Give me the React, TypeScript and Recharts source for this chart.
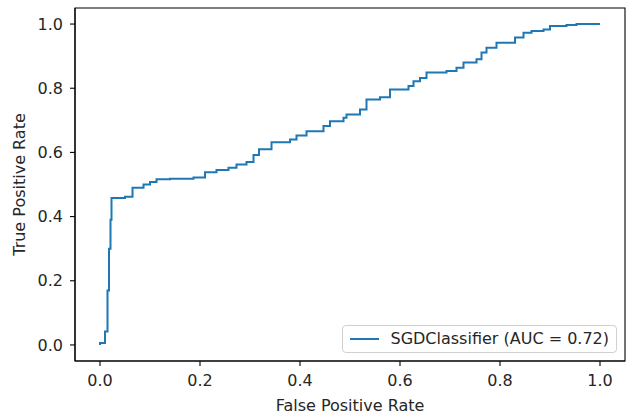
import React from 'react';
import { LineChart, Line, XAxis, YAxis, ReferenceArea, Legend } from 'recharts';

const fpr = [0, 0, 0.01, 0.015, 0.018, 0.021, 0.023, 0.05, 0.065, 0.087, 0.1, 0.113, 0.14, 0.187, 0.21, 0.233, 0.257, 0.273, 0.293, 0.307, 0.318, 0.343, 0.38, 0.393, 0.413, 0.447, 0.46, 0.487, 0.493, 0.52, 0.533, 0.56, 0.58, 0.617, 0.627, 0.64, 0.653, 0.693, 0.713, 0.727, 0.753, 0.763, 0.773, 0.793, 0.83, 0.847, 0.863, 0.887, 0.9, 0.933, 0.953, 1.0];
const tpr = [0, 0.006, 0.042, 0.17, 0.3, 0.39, 0.458, 0.462, 0.49, 0.5, 0.508, 0.516, 0.518, 0.522, 0.538, 0.545, 0.552, 0.562, 0.57, 0.592, 0.61, 0.632, 0.64, 0.653, 0.666, 0.682, 0.697, 0.708, 0.718, 0.734, 0.765, 0.772, 0.796, 0.807, 0.822, 0.832, 0.849, 0.854, 0.864, 0.88, 0.89, 0.911, 0.926, 0.942, 0.958, 0.973, 0.978, 0.983, 0.994, 0.997, 1.0, 1.0];
const ticks = [0, 0.2, 0.4, 0.6, 0.8, 1.0];
const seriesName = 'SGDClassifier (AUC = 0.72)';
const xLabel = 'False Positive Rate';
const yLabel = 'True Positive Rate';

const data = fpr.map((x, i) => ({ fpr: x, tpr: tpr[i] }));

const FONT = 'DejaVu Sans, sans-serif';
const FS = 16;
const TEXT = '#262626';
const BLUE = '#1f77b4';

const LegendBox = () => (
  <div
    style={{
      display: 'inline-flex',
      alignItems: 'center',
      background: 'rgba(255,255,255,0.8)',
      border: '1px solid #d0d0d0',
      borderRadius: 4,
      padding: '3px 7px 3px 7px',
      fontFamily: FONT,
      fontSize: FS,
      lineHeight: '20px',
      color: TEXT,
      whiteSpace: 'nowrap',
    }}
  >
    <svg width={29} height={4} style={{ marginRight: 11 }}>
      <line x1={0} y1={2} x2={29} y2={2} stroke={BLUE} strokeWidth={2} />
    </svg>
    <span>{seriesName}</span>
  </div>
);

export default function App() {
  return (
    <div style={{ position: 'absolute', left: 0, top: 0, width: 628, height: 417, background: '#fff' }}>
      <LineChart width={628} height={417} data={data} margin={{ top: 8, right: 3, bottom: 0, left: 0 }}>
        <XAxis
          dataKey="fpr"
          type="number"
          domain={[-0.05, 1.05]}
          ticks={ticks}
          tickFormatter={(v: number) => v.toFixed(1)}
          allowDataOverflow
          height={56}
          axisLine={{ stroke: '#000', strokeWidth: 1.1 }}
          tickLine={{ stroke: '#000', strokeWidth: 1.1 }}
          tickSize={5}
          tickMargin={9}
          tick={{ fill: TEXT, fontSize: FS, fontFamily: FONT }}
          label={{ value: xLabel, position: 'insideBottom', offset: 6, fill: TEXT, fontSize: FS, fontFamily: FONT }}
        />
        <YAxis
          dataKey="tpr"
          type="number"
          domain={[-0.05, 1.05]}
          ticks={ticks}
          tickFormatter={(v: number) => v.toFixed(1)}
          allowDataOverflow
          width={75}
          axisLine={{ stroke: '#000', strokeWidth: 1.1 }}
          tickLine={{ stroke: '#000', strokeWidth: 1.1 }}
          tickSize={5}
          tickMargin={7}
          tick={{ fill: TEXT, fontSize: FS, fontFamily: FONT }}
          label={{ value: yLabel, angle: -90, position: 'insideLeft', offset: 19, style: { textAnchor: 'middle' }, fill: TEXT, fontSize: FS, fontFamily: FONT }}
        />
        <ReferenceArea x1={-0.05} x2={1.05} y1={-0.05} y2={1.05} fill="none" stroke="#000" strokeWidth={1.1} />
        <Line
          dataKey="tpr"
          type="stepAfter"
          stroke={BLUE}
          strokeWidth={2}
          dot={false}
          isAnimationActive={false}
          name={seriesName}
        />
        <Legend
          layout="horizontal"
          verticalAlign="middle"
          align="center"
          content={() => <LegendBox />}
          wrapperStyle={{ position: 'absolute', left: 'auto', top: 'auto', right: 11, bottom: 64, width: 'auto' }}
        />
      </LineChart>
    </div>
  );
}
